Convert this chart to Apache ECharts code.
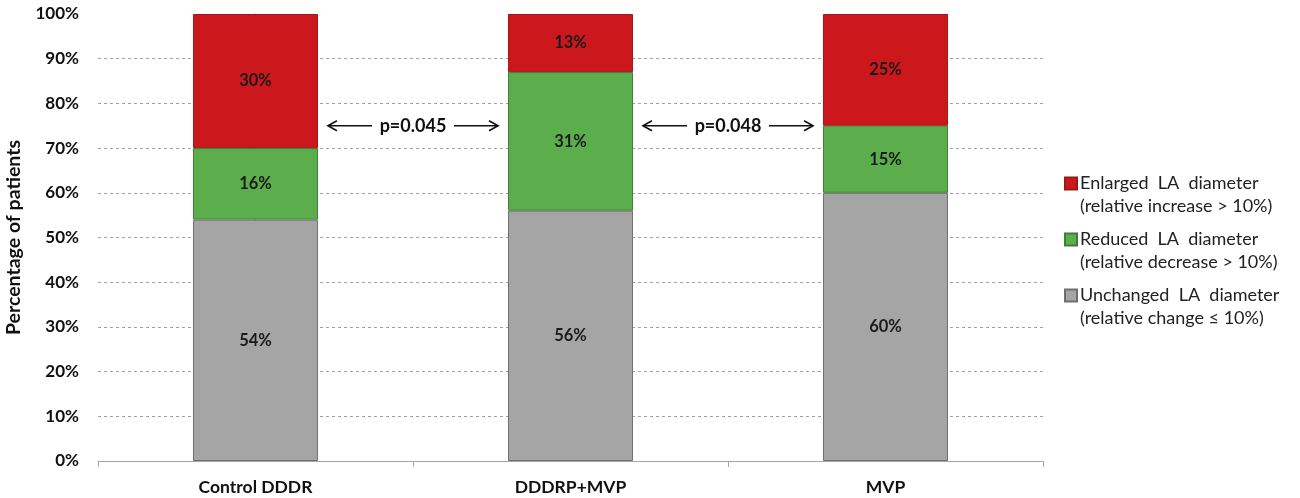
<!DOCTYPE html>
<html>
<head>
<meta charset="utf-8">
<title>LA diameter change by pacing mode</title>
<script src="https://cdn.jsdelivr.net/npm/echarts@6/dist/echarts.min.js"></script>
<style>
  html, body { margin: 0; padding: 0; background: #ffffff; }
  #chart { width: 1300px; height: 498px; }
</style>
</head>
<body>
<div id="chart"></div>
<script>
// Groups on the x axis
const categories = ['Control DDDR', 'DDDRP+MVP', 'MVP'];

// Share of patients per group (%)
const unchanged = [54, 56, 60];
const reduced = [16, 31, 15];
const enlarged = [30, 13, 25];

// Legend entries (two lines each)
const seriesNames = [
  'Enlarged  LA  diameter\n(relative increase > 10%)',
  'Reduced  LA  diameter\n(relative decrease > 10%)',
  'Unchanged  LA  diameter\n(relative change \u2264 10%)'
];

// Between-group comparisons: position between groups, height (%), label
const pPositions = [0.5, 1.5];
const pLevel = [75, 75];
const pLabels = ['p=0.045', 'p=0.048'];

// Y axis ticks
const yTicks = [0, 10, 20, 30, 40, 50, 60, 70, 80, 90, 100];

const FONT = 'Lato, "Open Sans", sans-serif';

// Legend square sitting on the first text line of a 46px-tall item
const legendIcon = 'path://M0,0M0,5.5h12v12h-12zM12,46';

const colors = {
  enlarged: { fill: '#CC181C', border: '#9a1a1a' },
  reduced: { fill: '#5BAE4B', border: '#3f7f34' },
  unchanged: { fill: '#A5A5A5', border: '#6f6f6f' }
};

function barSeries(name, data, c) {
  return {
    name: name,
    type: 'bar',
    stack: 'total',
    barWidth: '39.7%',
    data: data,
    itemStyle: { color: c.fill, borderColor: c.border, borderWidth: 1 },
    label: {
      show: true,
      position: 'inside',
      formatter: p => p.value + '%',
      fontFamily: FONT,
      fontWeight: 'bold',
      fontSize: 16.5,
      color: '#1a1a1a'
    },
    emphasis: { disabled: true }
  };
}

const chart = echarts.init(document.getElementById('chart'), null, { renderer: 'canvas' });

chart.setOption({
  animation: false,
  backgroundColor: '#ffffff',
  grid: {
    left: 98, right: 257, top: 14, bottom: 37,
    containLabel: false,
    outerBoundsMode: 'none'
  },
  legend: {
    orient: 'vertical',
    left: 1059,
    top: 166,
    itemWidth: 12,
    itemHeight: 46,
    itemGap: 8,
    icon: legendIcon,
    data: seriesNames,
    selectedMode: false,
    textStyle: {
      fontFamily: FONT,
      fontSize: 18,
      lineHeight: 23,
      color: '#222222',
      padding: [0, 0, 0, -2]
    }
  },
  xAxis: [
    {
      type: 'category',
      data: categories,
      axisLine: { lineStyle: { color: '#a6a6a6', width: 1 } },
      axisTick: { show: true, length: 6, lineStyle: { color: '#a6a6a6' } },
      axisLabel: {
        margin: 17,
        fontFamily: FONT,
        fontWeight: 'bold',
        fontSize: 17.5,
        color: '#111111'
      }
    },
    {
      type: 'value',
      min: -0.5,
      max: 2.5,
      show: false
    }
  ],
  yAxis: {
    type: 'value',
    min: yTicks[0],
    max: yTicks[yTicks.length - 1],
    interval: 10,
    name: 'Percentage of patients',
    nameLocation: 'middle',
    nameGap: 74,
    nameTextStyle: {
      fontFamily: FONT,
      fontWeight: 'bold',
      fontSize: 19.5,
      color: '#111111'
    },
    axisLine: { show: true, lineStyle: { color: '#a6a6a6', width: 1 } },
    axisTick: { show: true, length: 7, lineStyle: { color: '#a6a6a6' } },
    axisLabel: {
      margin: 19,
      formatter: v => v + '%',
      fontFamily: FONT,
      fontWeight: 'bold',
      fontSize: 17,
      color: '#111111'
    },
    splitLine: {
      show: true,
      showMinLine: false,
      showMaxLine: false,
      lineStyle: { color: '#a0a0a0', type: [3, 3], width: 1 }
    }
  },
  series: [
    barSeries(seriesNames[2], unchanged, colors.unchanged),
    barSeries(seriesNames[1], reduced, colors.reduced),
    barSeries(seriesNames[0], enlarged, colors.enlarged),
    {
      type: 'custom',
      name: 'comparisons',
      xAxisIndex: 1,
      yAxisIndex: 0,
      silent: true,
      z: 5,
      data: pPositions.map((x, i) => [x, pLevel[i], pLabels[i]]),
      renderItem: function (params, api) {
        const pt = api.coord([api.value(0), api.value(1)]);
        const cx = pt[0], cy = pt[1];
        const outer = api.size([0.27, 0])[0];
        const inner = 41;
        const head = 9, spread = 5;
        const stroke = { stroke: '#111111', lineWidth: 1.6, fill: null };
        return {
          type: 'group',
          children: [
            { type: 'line', shape: { x1: cx - inner, y1: cy, x2: cx - outer, y2: cy }, style: stroke },
            { type: 'polyline', shape: { points: [[cx - outer + head, cy - spread], [cx - outer, cy], [cx - outer + head, cy + spread]] }, style: stroke },
            { type: 'line', shape: { x1: cx + inner, y1: cy, x2: cx + outer, y2: cy }, style: stroke },
            { type: 'polyline', shape: { points: [[cx + outer - head, cy - spread], [cx + outer, cy], [cx + outer - head, cy + spread]] }, style: stroke },
            {
              type: 'text',
              x: cx,
              y: cy,
              style: {
                text: api.value(2),
                fontFamily: FONT,
                fontWeight: 'bold',
                fontSize: 18,
                fill: '#111111',
                align: 'center',
                verticalAlign: 'middle'
              }
            }
          ]
        };
      }
    }
  ]
});
</script>
</body>
</html>
